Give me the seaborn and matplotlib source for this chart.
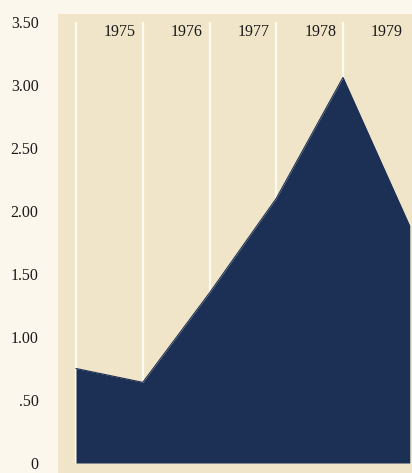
import matplotlib
matplotlib.use("Agg")
import matplotlib.pyplot as plt
import seaborn as sns
import pandas as pd

# Values at the start of each year (dollars)
years = [1975, 1976, 1977, 1978, 1979, 1980]
values = [0.75, 0.64, 1.35, 2.10, 3.06, 1.88]
year_labels = ["1975", "1976", "1977", "1978", "1979"]
y_ticks = [0, 0.5, 1.0, 1.5, 2.0, 2.5, 3.0, 3.5]
y_tick_labels = ["0", ".50", "1.00", "1.50", "2.00", "2.50", "3.00", "3.50"]

df = pd.DataFrame({"year": years, "value": values})

sns.set_style("white")
plt.rcParams["font.family"] = ["Liberation Serif", "DejaVu Serif"]

page = "#fbf7ec"
panel = "#f0e5c9"
navy = "#1c2f54"
ink = "#1a1a1a"

fig = plt.figure(figsize=(4.12, 4.73), dpi=100, facecolor=page)
ax = fig.add_axes([58 / 412, 0, 1 - 58 / 412, 1 - 14 / 473])
ax.set_facecolor(panel)

# year dividers
ax.vlines([1975, 1976, 1977, 1978, 1979], 0, 3.5, color="#fdfaf0", lw=1.6, zorder=1)

ax.fill_between(df["year"], 0, df["value"], color=navy, lw=0, zorder=2)
sns.lineplot(data=df, x="year", y="value", color=navy, lw=0.8, ax=ax, zorder=3)

for i, lab in enumerate(year_labels):
    ax.text(1975 + i + 0.66, 3.42, lab, ha="center", va="center",
            fontsize=11.5, color=ink)

ax.set_xlim(1975 - 18 / 66.75, 1975 + 336 / 66.75)
ax.set_ylim(-10 / 126, 449 / 126)
ax.set_yticks(y_ticks)
ax.set_yticklabels(y_tick_labels, fontsize=11.5, color=ink)
ax.set_xticks([])
ax.set_xlabel("")
ax.set_ylabel("")
ax.tick_params(axis="y", length=0, pad=14)
for s in ax.spines.values():
    s.set_visible(False)

fig.savefig("out.png", dpi=100, facecolor=page)
